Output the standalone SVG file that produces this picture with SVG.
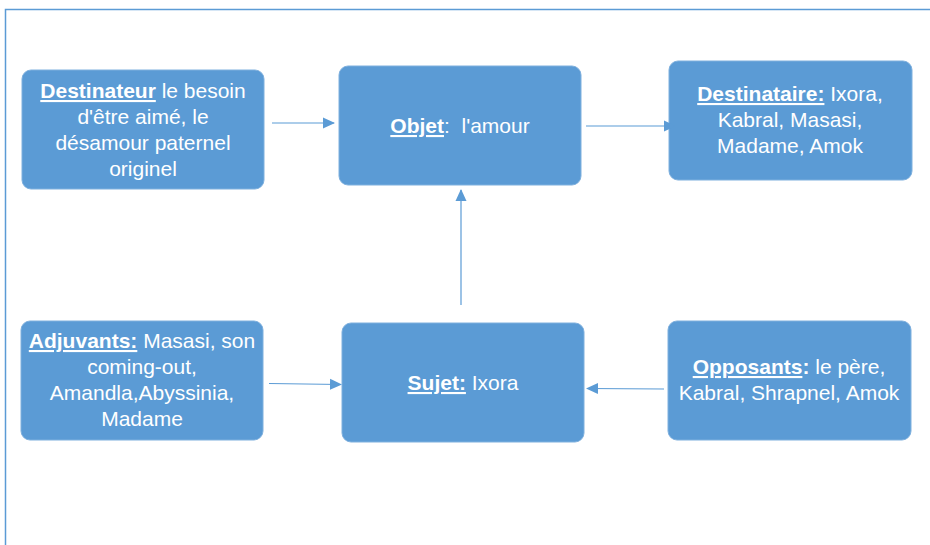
<svg xmlns="http://www.w3.org/2000/svg" width="930" height="545" viewBox="0 0 930 545">
<defs>
<style>
.box{fill:#5B9BD5;stroke:#7FB0DE;stroke-width:1}
.t{font-family:"Liberation Sans",Arial,sans-serif;font-size:21px;fill:#ffffff;text-anchor:middle}
.b{font-weight:bold}
.u{text-decoration:underline}
.c{stroke:#5B9BD5;stroke-width:1.2;fill:none;marker-end:url(#ah)}
.frame{stroke:#5B9BD5;stroke-width:1.5;fill:none}
</style>
<marker id="ah" markerWidth="12" markerHeight="12" refX="11" refY="6" orient="auto" markerUnits="userSpaceOnUse">
<path d="M0,0.5 L12,6 L0,11.5 Z" fill="#5B9BD5"/>
</marker>
</defs>
<rect width="930" height="545" fill="#ffffff"/>
<path class="frame" d="M5.5,545 L5.5,9.5 L930,9.5"/>
<g id="destinateur">
<rect class="box" x="22" y="70" width="242" height="119" rx="9"/>
<text class="t" x="143" y="98"><tspan class="b u">Destinateur</tspan> le besoin</text>
<text class="t" x="143" y="124">d'être aimé, le</text>
<text class="t" x="143" y="150">désamour paternel</text>
<text class="t" x="143" y="176">originel</text>
</g>
<g id="objet">
<rect class="box" x="339" y="66" width="242" height="119" rx="9"/>
<text class="t" x="460" y="133" xml:space="preserve"><tspan class="b u">Objet</tspan>:  l'amour</text>
</g>
<g id="destinataire">
<rect class="box" x="669" y="61" width="243" height="119" rx="9"/>
<text class="t" x="790" y="101"><tspan class="b u">Destinataire:</tspan> Ixora,</text>
<text class="t" x="790" y="127">Kabral, Masasi,</text>
<text class="t" x="790" y="153">Madame, Amok</text>
</g>
<g id="adjuvants">
<rect class="box" x="21" y="321" width="242" height="119" rx="9"/>
<text class="t" x="142" y="348"><tspan class="b u">Adjuvants:</tspan> Masasi, son</text>
<text class="t" x="142" y="374">coming-out,</text>
<text class="t" x="142" y="400">Amandla,Abyssinia,</text>
<text class="t" x="142" y="426">Madame</text>
</g>
<g id="sujet">
<rect class="box" x="342" y="323" width="242" height="119" rx="9"/>
<text class="t" x="463" y="390"><tspan class="b u">Sujet:</tspan> Ixora</text>
</g>
<g id="opposants">
<rect class="box" x="668" y="321" width="243" height="119" rx="9"/>
<text class="t" x="789" y="374"><tspan class="b u">Opposants</tspan><tspan class="b">:</tspan> le père,</text>
<text class="t" x="789" y="400">Kabral, Shrapnel, Amok</text>
</g>
<g id="connectors">
<line class="c" x1="272" y1="123" x2="334" y2="123"/>
<line class="c" x1="586" y1="126" x2="675" y2="126"/>
<line class="c" x1="461" y1="305" x2="461" y2="190"/>
<line class="c" x1="269" y1="383.5" x2="341" y2="384.5"/>
<line class="c" x1="664" y1="389" x2="587" y2="388.5"/>
</g>
</svg>
